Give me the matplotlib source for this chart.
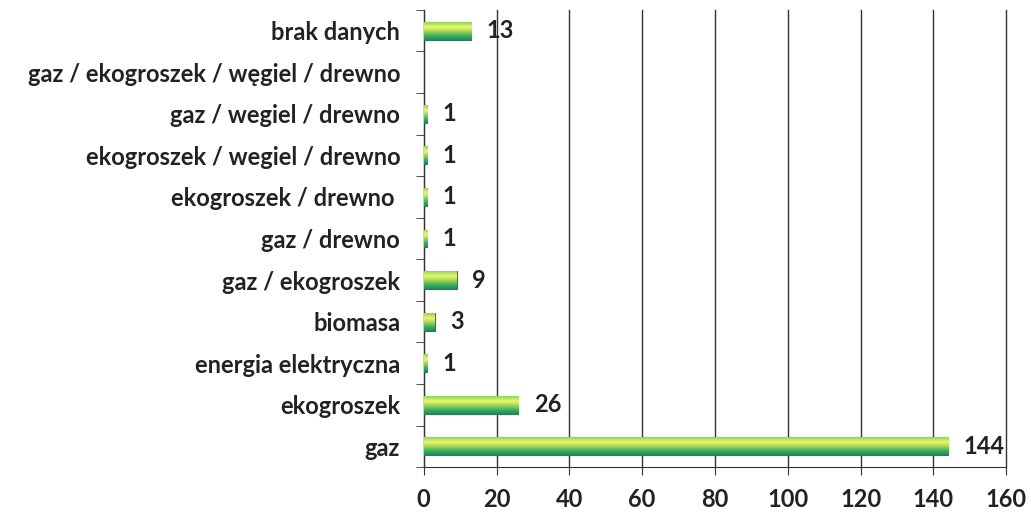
import matplotlib
matplotlib.use("Agg")
import matplotlib.pyplot as plt
import numpy as np
from matplotlib.colors import LinearSegmentedColormap

categories = ["gaz", "ekogroszek", "energia elektryczna", "biomasa", "gaz / ekogroszek",
              "gaz / drewno", "ekogroszek / drewno ", "ekogroszek / wegiel / drewno",
              "gaz / wegiel / drewno", "gaz / ekogroszek / węgiel / drewno", "brak danych"]
values = [144, 26, 1, 3, 9, 1, 1, 1, 1, 0, 13]
xticks = [0, 20, 40, 60, 80, 100, 120, 140, 160]

plt.rcParams['font.family'] = ['Lato', 'DejaVu Sans']
fig = plt.figure(figsize=(10.31, 5.15), dpi=100)
ax = fig.add_axes([0.411, 0.093, 0.565, 0.888])

y = np.arange(len(categories))
bars = ax.barh(y, values, height=0.43, color="#3cb371", edgecolor="#2b7a55", linewidth=0.8, zorder=3)

cmap = LinearSegmentedColormap.from_list(
    "g", [(0.0, "#8fd45c"), (0.28, "#ecf76e"), (0.5, "#a6da55"), (0.78, "#38ad62"), (1.0, "#1f8a5a")])
grad = np.linspace(0, 1, 64).reshape(-1, 1)
for b, v in zip(bars, values):
    if v <= 0:
        b.set_linewidth(0)
        continue
    x0, y0 = b.get_x(), b.get_y()
    w, h = b.get_width(), b.get_height()
    im = ax.imshow(grad, cmap=cmap, aspect='auto', extent=[x0, x0 + w, y0, y0 + h],
                   origin='upper', zorder=3.5, interpolation='bilinear')
    im.set_clip_path(b)

for yi, v in zip(y, values):
    if v > 0:
        ax.annotate(str(v), xy=(v, yi), xytext=(11, 0), textcoords='offset points',
                    va='center', ha='left', fontsize=17, fontweight='bold', color='#222222')

ax.set_xlim(0, 160)
ax.set_ylim(-0.5, len(categories) - 0.5)
ax.set_xticks(xticks)
ax.set_xticklabels([str(t) for t in xticks], fontsize=17, fontweight='bold', color='#222222')
ax.set_yticks(y)
ax.set_yticklabels(categories, fontsize=17, fontweight='bold', color='#222222')
ax.tick_params(axis='y', length=0, pad=17)
ax.set_yticks(np.arange(-0.5, len(categories), 1), minor=True)
ax.tick_params(axis='y', which='minor', length=6, direction='out', color='#333333')
ax.tick_params(axis='x', length=6, direction='out', pad=9, color='#333333')

ax.grid(axis='x', color='#333333', linewidth=1, zorder=0)
for gl in ax.get_xgridlines():
    gl.set_clip_on(False)
ax.set_axisbelow(True)
for s in ['top', 'right']:
    ax.spines[s].set_visible(False)
ax.spines['left'].set_color('#333333')
ax.spines['bottom'].set_color('#333333')

fig.savefig("out.png", dpi=100, facecolor='white')
